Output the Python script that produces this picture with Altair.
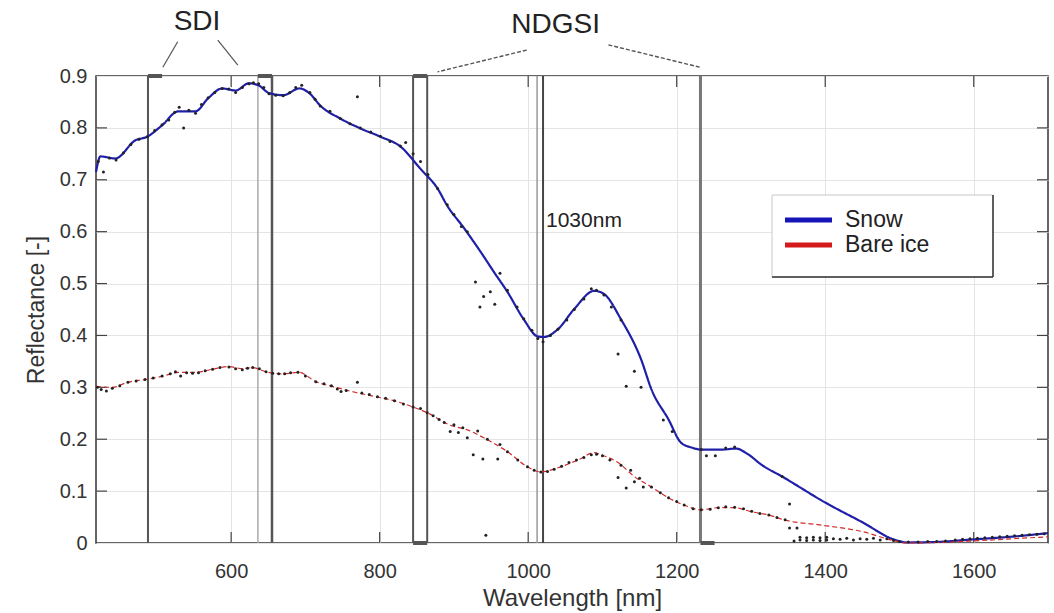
import altair as alt
import pandas as pd

FONT = "Liberation Sans"

# ---------------- data ----------------
snow_wl = [418, 424, 444, 471, 487, 507, 529, 552, 569, 588, 606, 624, 637, 651, 670, 692, 706, 720,
           747, 774, 801, 828, 855, 878, 891, 913, 936, 954, 972, 994, 1013, 1021, 1040, 1062, 1089,
           1102, 1125, 1152, 1166, 1189, 1206, 1220, 1233, 1260, 1280, 1295, 1315, 1342, 1400, 1450,
           1494, 1510, 1550, 1600, 1650, 1700]
snow_val = [0.715, 0.745, 0.741, 0.776, 0.783, 0.805, 0.832, 0.832, 0.857, 0.876, 0.872, 0.886, 0.882,
            0.867, 0.863, 0.876, 0.866, 0.843, 0.818, 0.799, 0.783, 0.764, 0.721, 0.683, 0.650, 0.608,
            0.561, 0.522, 0.484, 0.431, 0.398, 0.397, 0.412, 0.451, 0.486, 0.480, 0.431, 0.354, 0.296,
            0.238, 0.193, 0.184, 0.180, 0.180, 0.182, 0.172, 0.150, 0.128, 0.078, 0.040, 0.006, 0.001,
            0.002, 0.007, 0.012, 0.019]

ice_wl = [418, 440, 461, 484, 507, 529, 552, 575, 597, 615, 629, 647, 670, 691, 714, 741, 768, 795,
          822, 845, 864, 895, 918, 945, 972, 999, 1017, 1040, 1067, 1089, 1098, 1121, 1143, 1166, 1189,
          1210, 1233, 1256, 1278, 1301, 1324, 1346, 1392, 1450, 1494, 1510, 1550, 1600, 1650, 1700]
ice_val = [0.302, 0.300, 0.310, 0.315, 0.321, 0.329, 0.329, 0.335, 0.340, 0.336, 0.338, 0.330, 0.326,
           0.329, 0.311, 0.300, 0.290, 0.282, 0.273, 0.262, 0.251, 0.227, 0.218, 0.199, 0.176, 0.147,
           0.137, 0.145, 0.160, 0.174, 0.170, 0.155, 0.128, 0.108, 0.087, 0.073, 0.064, 0.068, 0.068,
           0.060, 0.054, 0.044, 0.035, 0.022, 0.004, 0.000, 0.001, 0.004, 0.008, 0.012]

snow_dot_wl = [421, 428, 436, 445, 455, 465, 476, 487, 497, 507, 516, 524, 530, 536, 543, 552, 560,
               569, 578, 588, 597, 606, 615, 624, 630, 637, 644, 651, 660, 670, 679, 687, 695, 706,
               713, 720, 733, 747, 760, 770, 774, 788, 801, 814, 828, 835, 845, 855, 865, 878, 891,
               900, 910, 918, 929, 935, 940, 949, 955, 962, 972, 985, 994, 1005, 1013, 1020, 1030,
               1040, 1052, 1062, 1075, 1085, 1092, 1102, 1112, 1121, 1125, 1132, 1143, 1152, 1182,
               1194, 1233, 1240, 1252, 1266, 1278, 1342, 1352]
snow_dot_val = [0.735, 0.715, 0.742, 0.738, 0.752, 0.768, 0.778, 0.783, 0.795, 0.806, 0.815, 0.830,
                0.840, 0.800, 0.834, 0.828, 0.845, 0.858, 0.868, 0.876, 0.875, 0.868, 0.878, 0.885,
                0.887, 0.885, 0.878, 0.866, 0.863, 0.862, 0.868, 0.878, 0.882, 0.868, 0.855, 0.842,
                0.832, 0.818, 0.808, 0.860, 0.800, 0.792, 0.784, 0.774, 0.765, 0.772, 0.750, 0.735,
                0.710, 0.683, 0.652, 0.633, 0.610, 0.600, 0.503, 0.455, 0.475, 0.484, 0.460, 0.520,
                0.487, 0.455, 0.432, 0.410, 0.394, 0.388, 0.400, 0.412, 0.430, 0.450, 0.470, 0.490,
                0.487, 0.478, 0.455, 0.364, 0.430, 0.302, 0.331, 0.300, 0.237, 0.215, 0.180, 0.168,
                0.168, 0.183, 0.185, 0.128, 0.075]

ice_dot_wl = [420, 425, 432, 440, 450, 461, 472, 484, 495, 507, 518, 525, 532, 540, 548, 556, 565,
              575, 585, 597, 606, 615, 622, 629, 638, 647, 656, 664, 672, 680, 690, 700, 714, 725,
              735, 743, 748, 755, 770, 776, 786, 797, 808, 820, 832, 845, 855, 864, 872, 880, 887,
              895, 900, 906, 912, 918, 926, 932, 939, 945, 959, 962, 972, 986, 999, 1008, 1017, 1026,
              1035, 1045, 1055, 1065, 1075, 1085, 1092, 1100, 1110, 1121, 1125, 1132, 1138, 1143,
              1150, 1155, 1166, 1178, 1189, 1200, 1210, 1222, 1233, 1245, 1256, 1266, 1278, 1290,
              1301, 1312, 1324, 1335, 1346, 1352, 1362, 943]
ice_dot_val = [0.300, 0.296, 0.293, 0.298, 0.303, 0.310, 0.312, 0.315, 0.318, 0.322, 0.326, 0.330,
               0.322, 0.328, 0.327, 0.328, 0.332, 0.335, 0.338, 0.339, 0.336, 0.334, 0.337, 0.338,
               0.336, 0.330, 0.327, 0.326, 0.326, 0.328, 0.329, 0.322, 0.311, 0.307, 0.303, 0.297,
               0.292, 0.294, 0.310, 0.289, 0.286, 0.282, 0.279, 0.274, 0.268, 0.262, 0.259, 0.251,
               0.245, 0.238, 0.232, 0.215, 0.228, 0.213, 0.222, 0.203, 0.170, 0.216, 0.162, 0.200,
               0.162, 0.190, 0.176, 0.160, 0.147, 0.140, 0.137, 0.138, 0.142, 0.148, 0.155, 0.160,
               0.165, 0.170, 0.171, 0.168, 0.160, 0.126, 0.150, 0.106, 0.140, 0.118, 0.125, 0.108,
               0.108, 0.097, 0.087, 0.080, 0.073, 0.066, 0.064, 0.065, 0.068, 0.070, 0.069, 0.066,
               0.061, 0.057, 0.054, 0.049, 0.045, 0.029, 0.029, 0.015]

zero_dot_wl = [1358, 1366, 1366, 1375, 1375, 1384, 1384, 1393, 1393, 1402, 1402, 1411, 1420, 1429,
               1438, 1447, 1456, 1465, 1474, 1483, 1492, 1500, 1512, 1525, 1538, 1550, 1562, 1575,
               1585, 1595, 1605, 1615, 1625, 1635, 1645, 1655, 1665, 1675, 1685, 1695]
zero_dot_val = [0.004, 0.006, 0.011, 0.005, 0.010, 0.006, 0.011, 0.005, 0.010, 0.006, 0.011, 0.008,
                0.007, 0.009, 0.006, 0.008, 0.007, 0.009, 0.006, 0.008, 0.005, 0.003, 0.002, 0.002,
                0.003, 0.003, 0.004, 0.006, 0.007, 0.008, 0.009, 0.010, 0.011, 0.012, 0.013, 0.014,
                0.015, 0.016, 0.017, 0.018]

series_names = ["Snow", "Bare ice"]
series_colors = ["#1f1fa8", "#d42a2a"]
legend_colors = ["#1515b8", "#d41a1a"]

# vertical band-marker lines
vline_wl = [488, 636, 655, 845, 864, 1012, 1020, 1232]
vline_color = ["#555555", "#aaaaaa", "#555555", "#555555", "#555555", "#999999", "#444444", "#777777"]
vline_width = [2, 1.5, 2.5, 2, 2, 1.5, 2, 3]

# short thick bars capping the band boxes
bar_x1 = [488, 636, 845, 845, 1232]
bar_x2 = [507, 655, 864, 864, 1251]
bar_y = [0.9, 0.9, 0.9, 0.0, 0.0]

# annotations
label_text = ["SDI", "NDGSI", "1030nm"]
label_wl = [554, 1037, 1024]
label_val = [1.004, 0.998, 0.621]

sdi_x1 = [528, 582]
sdi_x2 = [508, 609]
sdi_y1 = [0.966, 0.969]
sdi_y2 = [0.917, 0.921]

ndgsi_x1 = [998, 1108]
ndgsi_x2 = [878, 1231]
ndgsi_y1 = [0.950, 0.960]
ndgsi_y2 = [0.908, 0.917]

x_ticks = [600, 800, 1000, 1200, 1400, 1600]
y_ticks = [0, 0.1, 0.2, 0.3, 0.4, 0.5, 0.6, 0.7, 0.8, 0.9]

# ---------------- frames ----------------
lines_df = pd.concat([
    pd.DataFrame({"wl": snow_wl, "val": snow_val, "series": "Snow"}),
    pd.DataFrame({"wl": ice_wl, "val": ice_val, "series": "Bare ice"}),
])
dots_df = pd.concat([
    pd.DataFrame({"wl": snow_dot_wl, "val": snow_dot_val}),
    pd.DataFrame({"wl": ice_dot_wl, "val": ice_dot_val}),
    pd.DataFrame({"wl": zero_dot_wl, "val": zero_dot_val}),
])
vline_df = pd.DataFrame({"wl": vline_wl, "c": vline_color, "w": vline_width})
bar_df = pd.DataFrame({"x1": bar_x1, "x2": bar_x2, "y": bar_y})
lab_df = pd.DataFrame({"t": label_text, "wl": label_wl, "val": label_val})
sdi_df = pd.DataFrame({"x1": sdi_x1, "x2": sdi_x2, "y1": sdi_y1, "y2": sdi_y2})
ndgsi_df = pd.DataFrame({"x1": ndgsi_x1, "x2": ndgsi_x2, "y1": ndgsi_y1, "y2": ndgsi_y2})
xt_df = pd.DataFrame({"wl": x_ticks})
yt_df = pd.DataFrame({"val": y_ticks[1:-1]})
leg_df = pd.DataFrame({"series": series_names, "c": legend_colors})

xscale = alt.Scale(domain=[418, 1700], nice=False, zero=False)
yscale = alt.Scale(domain=[0, 0.9], nice=False)

X = alt.X("wl:Q", scale=xscale,
          axis=alt.Axis(values=x_ticks, title="Wavelength [nm]", format="d"))
Y = alt.Y("val:Q", scale=yscale,
          axis=alt.Axis(values=y_ticks, title="Reflectance [-]", format=".1~f"))

vlines = alt.Chart(vline_df).mark_rule().encode(
    x=alt.X("wl:Q", scale=xscale),
    y=alt.value(0), y2=alt.value(467),
    color=alt.Color("c:N", scale=None),
    strokeWidth=alt.StrokeWidth("w:Q", scale=None),
)

bars = alt.Chart(bar_df).mark_rule(color="#555555", strokeWidth=4).encode(
    x=alt.X("x1:Q", scale=xscale), x2="x2:Q",
    y=alt.Y("y:Q", scale=yscale),
)

lines = alt.Chart(lines_df).mark_line(interpolate="monotone").encode(
    x=X, y=Y,
    color=alt.Color("series:N",
                    scale=alt.Scale(domain=series_names, range=series_colors),
                    legend=None),
    strokeDash=alt.StrokeDash("series:N",
                              scale=alt.Scale(domain=series_names, range=[[1, 0], [5, 3]]),
                              legend=None),
    strokeWidth=alt.StrokeWidth("series:N",
                                scale=alt.Scale(domain=series_names, range=[2.2, 1.2]),
                                legend=None),
    order=alt.Order("wl:Q"),
)

dots = alt.Chart(dots_df).mark_circle(size=9, color="#222222", opacity=1).encode(
    x=alt.X("wl:Q", scale=xscale), y=alt.Y("val:Q", scale=yscale))

labels_center = alt.Chart(lab_df).transform_filter(alt.datum.t != "1030nm").mark_text(
    font=FONT, color="#222222", align="center", baseline="middle", fontSize=28).encode(
    x=alt.X("wl:Q", scale=xscale), y=alt.Y("val:Q", scale=yscale), text="t:N")
labels_left = alt.Chart(lab_df).transform_filter(alt.datum.t == "1030nm").mark_text(
    font=FONT, color="#222222", align="left", baseline="middle", fontSize=21).encode(
    x=alt.X("wl:Q", scale=xscale), y=alt.Y("val:Q", scale=yscale), text="t:N")

sdi_lines = alt.Chart(sdi_df).mark_rule(color="#555555", strokeWidth=1.2).encode(
    x=alt.X("x1:Q", scale=xscale), x2="x2:Q",
    y=alt.Y("y1:Q", scale=yscale), y2="y2:Q")
ndgsi_lines = alt.Chart(ndgsi_df).mark_rule(color="#555555", strokeWidth=1.4,
                                            strokeDash=[4, 2]).encode(
    x=alt.X("x1:Q", scale=xscale), x2="x2:Q",
    y=alt.Y("y1:Q", scale=yscale), y2="y2:Q")

tick_bottom = alt.Chart(xt_df).mark_rule(color="#444444", strokeWidth=1.2).encode(
    x=alt.X("wl:Q", scale=xscale), y=alt.value(467), y2=alt.value(456))
tick_top = alt.Chart(xt_df).mark_rule(color="#444444", strokeWidth=1.2).encode(
    x=alt.X("wl:Q", scale=xscale), y=alt.value(0), y2=alt.value(11))
tick_left = alt.Chart(yt_df).mark_rule(color="#444444", strokeWidth=1.2).encode(
    y=alt.Y("val:Q", scale=yscale), x=alt.value(0), x2=alt.value(11))
tick_right = alt.Chart(yt_df).mark_rule(color="#444444", strokeWidth=1.2).encode(
    y=alt.Y("val:Q", scale=yscale), x=alt.value(952), x2=alt.value(941))

# ---------------- manual legend (MATLAB style box) ----------------
leg_box = alt.Chart(leg_df).transform_filter(alt.datum.series == "Snow").mark_rect(
    fill="white", stroke="#c8c8c8", strokeWidth=1).encode(
    x=alt.value(676), x2=alt.value(897), y=alt.value(119), y2=alt.value(201))
leg_edge_r = alt.Chart(leg_df).transform_filter(alt.datum.series == "Snow").mark_rule(
    color="#333333", strokeWidth=1.5).encode(
    x=alt.value(897), y=alt.value(119), y2=alt.value(201))
leg_edge_b = alt.Chart(leg_df).transform_filter(alt.datum.series == "Snow").mark_rule(
    color="#333333", strokeWidth=1.5).encode(
    x=alt.value(676), x2=alt.value(897), y=alt.value(201))


def legend_entry(name, ypix):
    base = alt.Chart(leg_df).transform_filter(alt.datum.series == name)
    sym = base.mark_rule(strokeWidth=5).encode(
        x=alt.value(689), x2=alt.value(736), y=alt.value(ypix),
        color=alt.Color("c:N", scale=None))
    txt = base.mark_text(font=FONT, fontSize=23, color="#222222", align="left",
                         baseline="middle").encode(
        x=alt.value(749), y=alt.value(ypix), text="series:N")
    return sym + txt


chart = alt.layer(
    vlines, bars, tick_bottom, tick_top, tick_left, tick_right,
    lines, dots, labels_center, labels_left, sdi_lines, ndgsi_lines,
    leg_box, leg_edge_r, leg_edge_b,
    legend_entry("Snow", 144), legend_entry("Bare ice", 169),
).properties(
    width=952, height=467,
    autosize=alt.AutoSizeParams(type="none"),
    padding={"left": 96, "top": 76, "right": 6, "bottom": 70},
).configure_view(
    stroke="#333333", strokeWidth=1.5,
).configure_axis(
    labelFont=FONT, titleFont=FONT, labelFontSize=20,
    labelColor="#333333", titleColor="#333333", titleFontWeight="normal",
    grid=True, gridColor="#e4e4e4", gridWidth=1, domain=False, ticks=False,
).configure_axisX(
    labelPadding=18, titlePadding=5, titleFontSize=24,
).configure_axisY(
    labelPadding=9, titlePadding=11, titleFontSize=23,
)

chart.save("out.html", embed_options={"renderer": "svg", "actions": False})
